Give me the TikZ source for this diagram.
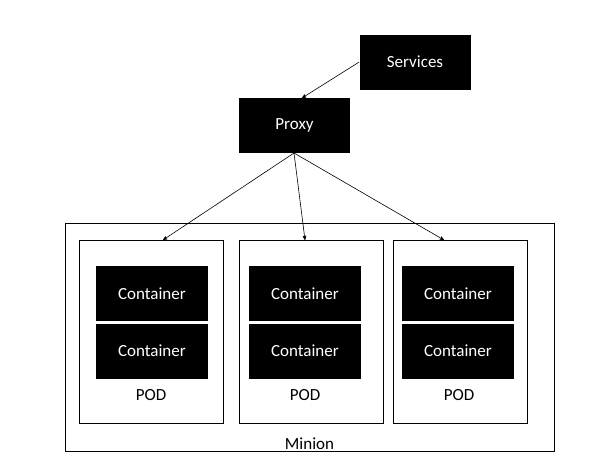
\documentclass[tikz,border=0pt]{standalone}
\usepackage{fontspec}
\setmainfont{Carlito}
\usetikzlibrary{arrows,positioning}

\begin{document}
\begin{tikzpicture}[x=1pt,y=-1pt,>=stealth',semithick,
                    font=\fontsize{17}{20}\selectfont,
                    blackbox/.style={rectangle,fill=black,text=white,inner sep=0pt,
                                     minimum width=111pt,minimum height=55pt},
                    podbox/.style={rectangle,draw,line width=0.8pt,inner sep=0pt,
                                   minimum height=183pt},
                    cont/.style={rectangle,fill=black,text=white,inner sep=0pt,
                                 minimum width=112pt,minimum height=55pt},
                    link/.style={->,line width=0.6pt}]
  \useasboundingbox (0,0) rectangle (598,467);

  \node[blackbox] (services) at (415,62)    {Services};
  \node[blackbox] (proxy)    at (294.5,125.5) {Proxy};

  \node[draw,line width=0.8pt,minimum width=489pt,minimum height=228pt,inner sep=0pt]
        (minion) at (309.5,337) {};
  \node (minionlbl) at (309.5,444) {Minion};

  \node[podbox,minimum width=144pt] (pod1) at (151,331.5) {};
  \node[podbox,minimum width=144pt] (pod2) at (311,331.5) {};
  \node[podbox,minimum width=134pt] (pod3) at (460,331.5) {};

  \node[cont] (c1a) at (152,293.5) {Container};
  \node[cont] (c1b) [below=2pt of c1a] {Container};
  \node[cont] (c2a) at (305,293.5) {Container};
  \node[cont] (c2b) [below=2pt of c2a] {Container};
  \node[cont] (c3a) at (458,293.5) {Container};
  \node[cont] (c3b) [below=2pt of c3a] {Container};

  \node (pod1lbl) at (151,395) {POD};
  \node (pod2lbl) at (305,395) {POD};
  \node (pod3lbl) at (459,395) {POD};

  \coordinate (proxyin) at (302,98);
  \coordinate (proxyout) at (294,153);
  \coordinate (pod1in) at (163,240);
  \coordinate (pod2in) at (305,240);
  \coordinate (pod3in) at (444,240);

  \draw[link] (services.west) -- (proxyin);
  \draw[link] (proxyout) -- (pod1in);
  \draw[link] (proxyout) -- (pod2in);
  \draw[link] (proxyout) -- (pod3in);
\end{tikzpicture}
\end{document}
